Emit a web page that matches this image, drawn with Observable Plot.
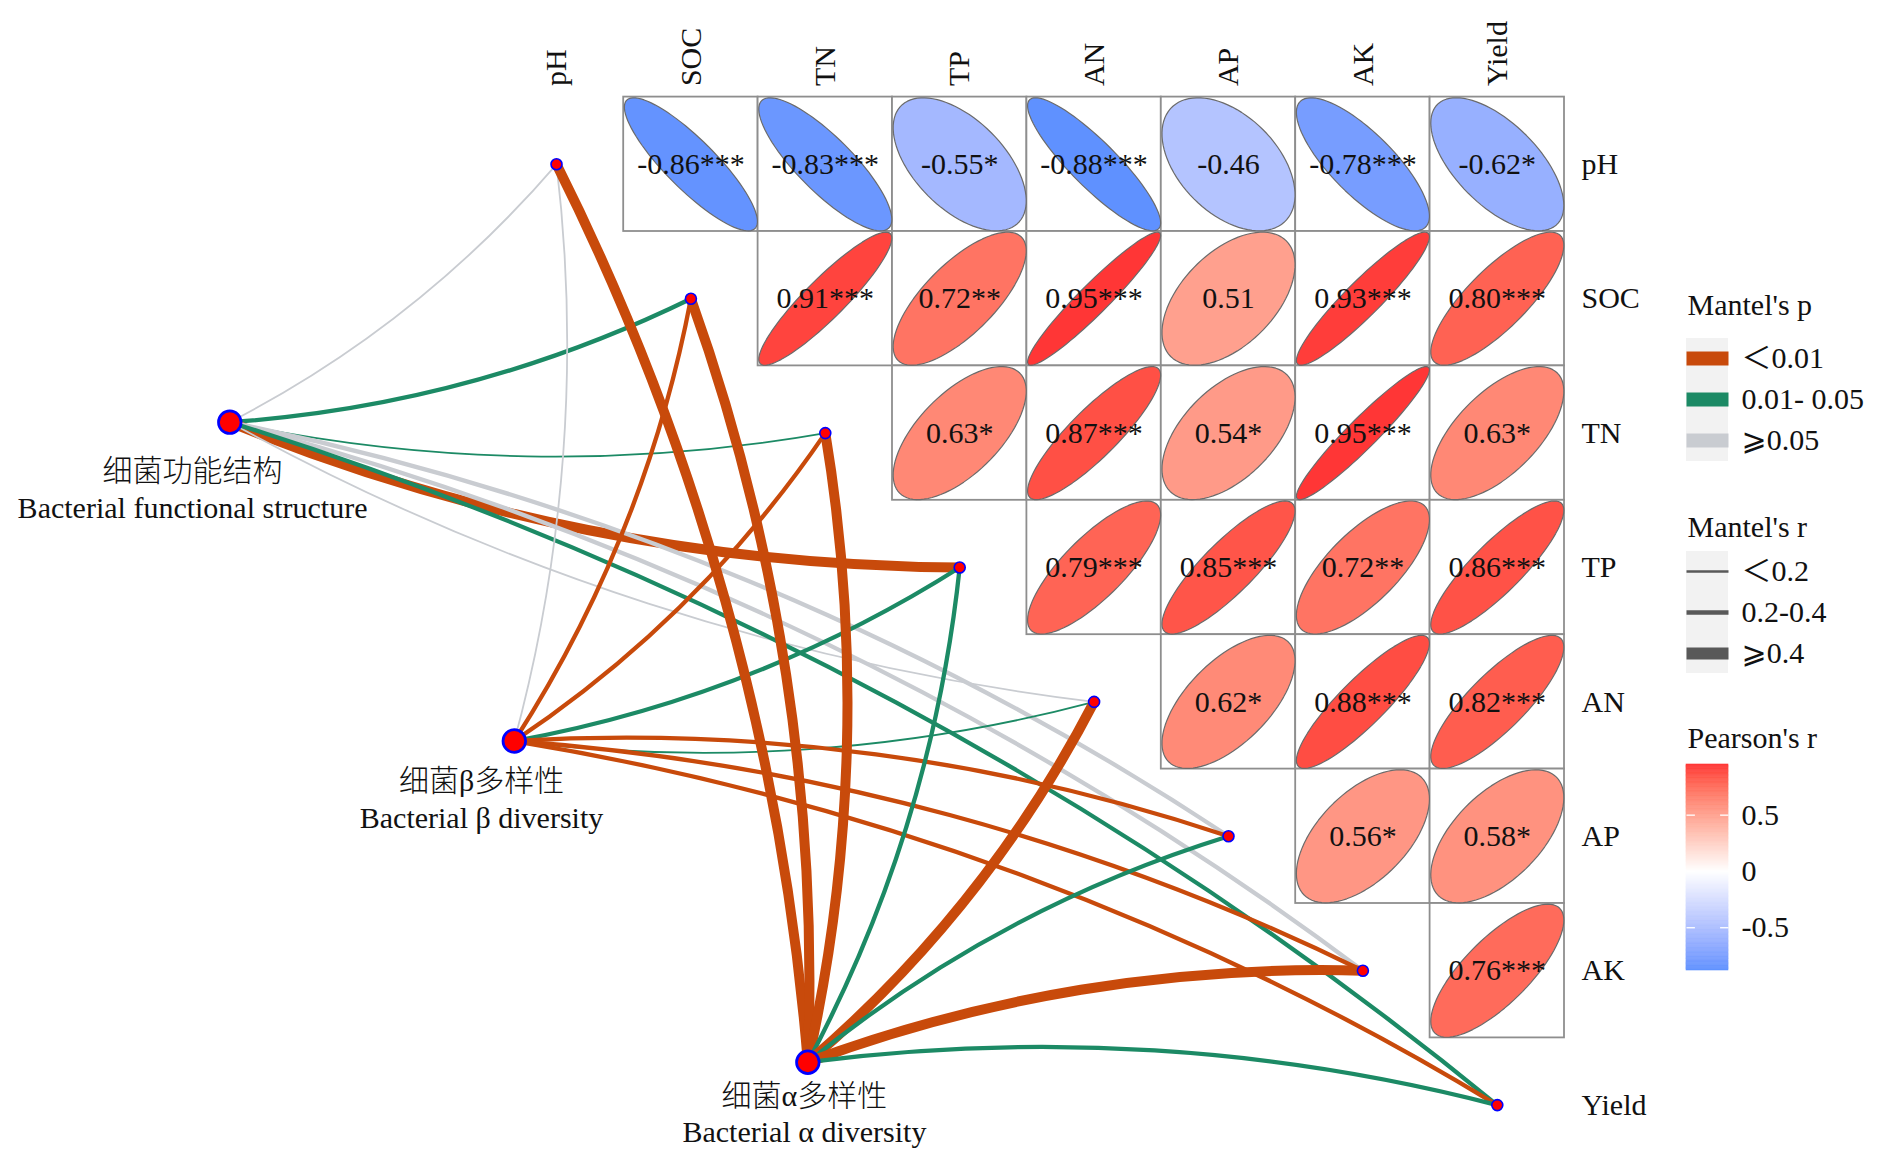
<!DOCTYPE html>
<html>
<head>
<meta charset="utf-8">
<script src="https://cdn.jsdelivr.net/npm/d3@7"></script>
<script src="https://cdn.jsdelivr.net/npm/@observablehq/plot@0.6"></script>
<style>
html, body { margin: 0; padding: 0; background: #ffffff; }
svg { display: block; }
</style>
</head>
<body>
<div id="chart"></div>
<script>
// ---------------- data ----------------
const envs = ["pH", "SOC", "TN", "TP", "AN", "AP", "AK", "Yield"];

// Pearson r, upper triangle read row by row (pH row first)
const corrR = [
  -0.86, -0.83, -0.55, -0.88, -0.46, -0.78, -0.62,
   0.91,  0.72,  0.95,  0.51,  0.93,  0.80,
   0.63,  0.87,  0.54,  0.95,  0.63,
   0.79,  0.85,  0.72,  0.86,
   0.62,  0.88,  0.82,
   0.56,  0.58,
   0.76
];
const corrStars = [
  "***", "***", "*", "***", "", "***", "*",
  "***", "**", "***", "", "***", "***",
  "*", "***", "*", "***", "*",
  "***", "***", "**", "***",
  "*", "***", "***",
  "*", "*",
  "***"
];

const specsZh = ["细菌功能结构", "细菌β多样性", "细菌α多样性"];
const specsEn = ["Bacterial functional structure", "Bacterial β diversity", "Bacterial α diversity"];
// node positions in cell units (column, row of the matrix)
const specX = [-2.431, -0.314, 1.870];
const specY = [1.919, 4.291, 6.681];
const specLabelX = [-2.708, -0.558, 1.845];
const specLabelY = [2.628, 4.935, 7.278];

// Mantel categories (rows: specs, cols: envs)
const pLevels = ["<0.01", "0.01-0.05", ">=0.05"];
const pLabels = ["＜0.01", "0.01- 0.05", "⩾0.05"];
const rLevels = ["<0.2", "0.2-0.4", ">=0.4"];
const rLabels = ["＜0.2", "0.2-0.4", "⩾0.4"];
const mantelP = [
  [">=0.05", "0.01-0.05", "0.01-0.05", "<0.01", ">=0.05", ">=0.05", ">=0.05", "0.01-0.05"],
  [">=0.05", "<0.01", "<0.01", "0.01-0.05", "0.01-0.05", "<0.01", "<0.01", "<0.01"],
  ["<0.01", "<0.01", "<0.01", "0.01-0.05", "<0.01", "0.01-0.05", "<0.01", "0.01-0.05"]
];
const mantelR = [
  ["<0.2", "0.2-0.4", "<0.2", ">=0.4", "<0.2", "0.2-0.4", "0.2-0.4", "0.2-0.4"],
  ["<0.2", "0.2-0.4", "0.2-0.4", "0.2-0.4", "<0.2", "0.2-0.4", "0.2-0.4", "0.2-0.4"],
  [">=0.4", ">=0.4", ">=0.4", "0.2-0.4", ">=0.4", "0.2-0.4", ">=0.4", "0.2-0.4"]
];
const legendTitles = ["Mantel's p", "Mantel's r", "Pearson's r"];
const colorbarTicks = [0.5, 0, -0.5];

// ---------------- styles / layout ----------------
const FONT = "'Liberation Serif','Times New Roman','Noto Sans CJK SC','DejaVu Sans',serif";
const FS = 30;
const pColors = ["#C84A0B", "#1C8A65", "#C9CCD1"];
const rWidths = [1.8, 4.3, 10];
const rLegendWidths = [2.6, 4.6, 12];
const BEND = 11;
const CELL = 134.4, X0 = 556, Y0 = 163.8;   // pixel centre of cell (0,0) and cell size
const px = v => (v - X0) / CELL, py = v => (v - Y0) / CELL;
const n = envs.length;

// ---------------- derived tables ----------------
const cells = [];
{
  let k = 0;
  for (let i = 0; i < n; i++) for (let j = i + 1; j < n; j++) {
    cells.push({row: i, col: j, r: corrR[k], label: corrR[k].toFixed(2) + corrStars[k]});
    k++;
  }
}
const rAbsMax = d3.max(corrR, Math.abs);
const pearson = Plot.scale({color: {type: "linear", domain: [-rAbsMax, 0, rAbsMax],
  range: ["#4A89FF", "#FFFFFF", "#FF3636"], interpolate: "lab"}});

const ellipsePts = [];
cells.forEach((c, id) => {
  const d = Math.acos(c.r), fill = pearson.apply(c.r);
  for (let s = 0; s < 90; s++) {
    const t = (s / 90) * 2 * Math.PI;
    ellipsePts.push({id, fill, x: c.col + 0.495 * Math.cos(t + d / 2), y: c.row - 0.495 * Math.cos(t - d / 2)});
  }
});

const edges = [];
specsEn.forEach((s, si) => envs.forEach((e, ei) => {
  edges.push({
    spec: s, env: e, x1: specX[si], y1: specY[si], x2: ei, y2: ei,
    stroke: pColors[pLevels.indexOf(mantelP[si][ei])],
    sw: rWidths[rLevels.indexOf(mantelR[si][ei])],
    bend: ei <= 4 ? -BEND : BEND
  });
}));

// legend geometry
const LX1 = px(1686), LX2 = px(1728), LTX = px(1741), LTitleX = px(1687);
const titleY = [py(305), py(527), py(738)];
const pKeyY = pLevels.map((d, i) => py(358 + 41 * i));
const rKeyY = rLevels.map((d, i) => py(571 + 41 * i));
const keyBg = [
  {y1: py(338), y2: py(461)},
  {y1: py(551), y2: py(673)}
];
const rMin = d3.min(corrR), rMaxV = d3.max(corrR);
const barTop = py(764), barBot = py(970);
const barY = v => barTop + (rMaxV - v) / (rMaxV - rMin) * (barBot - barTop);
const slices = d3.range(160).map(i => {
  const a = rMin + (rMaxV - rMin) * i / 160, b = rMin + (rMaxV - rMin) * (i + 1) / 160;
  return {a, b, fill: pearson.apply((a + b) / 2)};
});
const tickLen = (LX2 - LX1) * 0.2;

const textOpts = {fontSize: FS, fontFamily: FONT, fill: "#111111"};

const chart = Plot.plot({
  width: 1891,
  height: 1167,
  margin: 0,
  x: {domain: [-0.5, n - 0.5], range: [X0 - CELL / 2, X0 + (n - 0.5) * CELL], axis: null},
  y: {domain: [-0.5, n - 0.5], range: [Y0 - CELL / 2, Y0 + (n - 0.5) * CELL], axis: null},
  color: {type: "identity"},
  style: {background: "#ffffff"},
  marks: [
    // correlation matrix
    Plot.rect(cells, {x1: d => d.col - 0.5, x2: d => d.col + 0.5, y1: d => d.row - 0.5, y2: d => d.row + 0.5,
      fill: "#ffffff", stroke: "#8E8E8E", strokeWidth: 1.8}),
    Plot.line(ellipsePts, {x: "x", y: "y", z: "id", fill: "fill", stroke: "#6B6B6B", strokeWidth: 1.2, curve: "linear-closed"}),
    Plot.text(cells, {x: "col", y: "row", text: "label", ...textOpts}),
    // axis labels
    Plot.text(envs, {x: n - 0.5 + px(1580) - px(1563), y: (d, i) => i, text: d => d, textAnchor: "start", ...textOpts}),
    Plot.text(envs, {x: (d, i) => i, y: -0.5 - (py(95) - py(84)), text: d => d, rotate: -90, textAnchor: "start", ...textOpts}),
    // Mantel links
    ...edges.map(d => Plot.arrow([d], {x1: "x1", y1: "y1", x2: "x2", y2: "y2", stroke: "stroke", strokeWidth: "sw",
      bend: d.bend, headLength: 0})),
    // nodes
    Plot.dot(envs, {x: (d, i) => i, y: (d, i) => i, r: 5.5, fill: "#FF0000", stroke: "#0000FF", strokeWidth: 1.6}),
    Plot.dot(specsEn, {x: (d, i) => specX[i], y: (d, i) => specY[i], r: 11.3, fill: "#FF0000", stroke: "#0000FF", strokeWidth: 2.7}),
    Plot.text(specsEn, {x: (d, i) => specLabelX[i], y: (d, i) => specLabelY[i], text: (d, i) => specsZh[i] + "\n" + d,
      lineAnchor: "bottom", lineHeight: 1.23, fontWeight: 300, ...textOpts}),
    // legends
    Plot.text(legendTitles, {x: LTitleX, y: (d, i) => titleY[i], text: d => d, textAnchor: "start", ...textOpts}),
    Plot.rect(keyBg, {x1: LX1, x2: LX2, y1: "y1", y2: "y2", fill: "#F2F2F2"}),
    Plot.link(pLevels, {x1: LX1, x2: LX2, y1: (d, i) => pKeyY[i], y2: (d, i) => pKeyY[i], stroke: (d, i) => pColors[i], strokeWidth: 14}),
    Plot.text(pLabels, {x: LTX, y: (d, i) => pKeyY[i], text: d => d, textAnchor: "start", ...textOpts}),
    Plot.link(rLevels, {x1: LX1, x2: LX2, y1: (d, i) => rKeyY[i], y2: (d, i) => rKeyY[i], stroke: "#595959", strokeWidth: (d, i) => rLegendWidths[i]}),
    Plot.text(rLabels, {x: LTX, y: (d, i) => rKeyY[i], text: d => d, textAnchor: "start", ...textOpts}),
    Plot.rect(slices, {x1: LX1, x2: LX2, y1: d => barY(d.b), y2: d => barY(d.a), fill: "fill", stroke: "fill", strokeWidth: 0.6}),
    Plot.link(colorbarTicks, {x1: LX1, x2: LX1 + tickLen, y1: d => barY(d), y2: d => barY(d), stroke: "#ffffff", strokeWidth: 1.3}),
    Plot.link(colorbarTicks, {x1: LX2 - tickLen, x2: LX2, y1: d => barY(d), y2: d => barY(d), stroke: "#ffffff", strokeWidth: 1.3}),
    Plot.text(colorbarTicks, {x: LTX, y: d => barY(d), text: d => String(d), textAnchor: "start", ...textOpts})
  ]
});
document.getElementById("chart").appendChild(chart);
</script>
</body>
</html>
